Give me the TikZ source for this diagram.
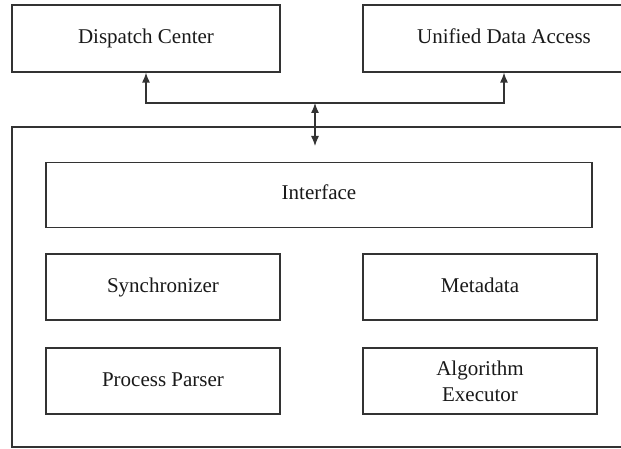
\documentclass[tikz,border=0pt]{standalone}
\usepackage{fontspec}
\setmainfont{Liberation Serif}
\usetikzlibrary{arrows.meta}
\definecolor{inkgray}{HTML}{333333}
\begin{document}
\begin{tikzpicture}[x=1pt,y=-1pt,
    block/.style={draw=inkgray,line width=1.2pt,rectangle,fill=white,text=black!90,
      font=\fontsize{21}{25}\selectfont,align=center,inner sep=0pt},
    oneline/.style={text height=14.5pt,text depth=4.5pt},
    link/.style={draw=inkgray,line width=1.2pt,>={Latex[length=10pt,width=8pt]}}]
        %% Frame of the page
        \useasboundingbox (0,0) rectangle (621,449);
        \clip (0,0) rectangle (621,449);
        %% Outer services
        \node[block,oneline,minimum width=268pt,minimum height=67pt] (dispatch) at (146,38.5) {Dispatch Center};
        \node[block,oneline,minimum width=282pt,minimum height=67pt] (unified) at (504,38.5) {Unified Data Access};
        %% System frame
        \node[block,minimum width=639pt,minimum height=320pt] (system) at (331.5,287) {};
        %% Modules
        \node[block,oneline,minimum width=546pt,minimum height=65pt] (interface) at (319,195) {Interface};
        \node[block,oneline,minimum width=234pt,minimum height=66pt] (sync) at (163,287) {Synchronizer};
        \node[block,oneline,minimum width=234pt,minimum height=66pt] (meta) at (480,287) {Metadata};
        \node[block,oneline,minimum width=234pt,minimum height=66pt] (parser) at (163,381) {Process Parser};
        \node[block,minimum width=234pt,minimum height=66pt] (algo) at (480,381) {Algorithm\\[1pt]Executor};
        %% Links
        \coordinate (hub) at (315,103);
        \coordinate (inlet) at (315,146);
        \draw[link,->] (hub) -| (dispatch.south);
        \draw[link,->] (hub) -| (unified.south);
        \draw[link,<->] (hub) -- (inlet);
    \end{tikzpicture}
\end{document}
